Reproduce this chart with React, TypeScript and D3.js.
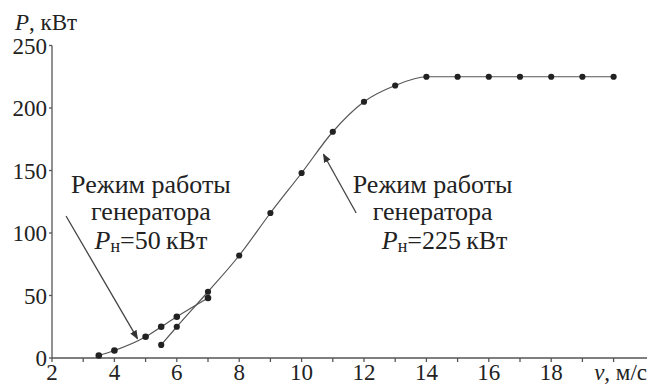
import React from 'react'
import * as d3 from 'd3'

// mode with 50 kW generator
const lowSpeed = [3.5, 4, 5, 5.5, 6, 7]
const lowPower = [2, 6, 17, 25, 33, 48]

// mode with 225 kW generator
const ratedSpeed = [5.5, 6, 7, 8, 9, 10, 11, 12, 13, 14, 15, 16, 17, 18, 19, 20]
const ratedPower = [10.5, 25, 53, 82, 116, 148, 181, 205, 218, 225, 225, 225, 225, 225, 225, 225]

const xTickValues = [2, 4, 6, 8, 10, 12, 14, 16, 18]
const yTickValues = [0, 50, 100, 150, 200, 250]

const width = 650
const height = 385
const ink = '#222'
const lineGrey = '#555'
const fam = 'Liberation Serif'
const fontCss = "svg#pv text.ser, svg#pv text.ser tspan { font-family: 'Liberation Serif', 'Times New Roman', serif !important; }"

const x = d3.scaleLinear().domain([2, 21]).range([52, 644.8])
const y = d3.scaleLinear().domain([0, 250]).range([358, 45.5])

const line = d3.line<[number, number]>()
    .x(d => x(d[0]))
    .y(d => y(d[1]))
    .curve(d3.curveMonotoneX)

const lowPts: [number, number][] = lowSpeed.map((v, i) => [v, lowPower[i]])
const ratedPts: [number, number][] = ratedSpeed.map((v, i) => [v, ratedPower[i]])

function Label(props: { cx: number, cy: number, lines: string[], value: string, shift: number }) {
    const { cx, cy, lines, value, shift } = props
    return (
        <g fill={ink} textAnchor="middle">
            <text className="ser" x={cx} y={cy} fontFamily={fam} fontSize={26}>{lines[0]}</text>
            <text className="ser" x={cx} y={cy + 27} fontFamily={fam} fontSize={26}>{lines[1]}</text>
            <text className="ser" x={cx + shift} y={cy + 56} fontFamily={fam} fontSize={26}>
                <tspan fontStyle="italic">P</tspan>
                <tspan fontSize={18} dy={3}>н</tspan>
                <tspan dy={-3}>{'=' + value + '\u2009кВт'}</tspan>
            </text>
        </g>
    )
}

export default function App() {
    const xMinor = d3.range(2, 21, 1)

    return (
        <svg id="pv" width={width} height={height} fontFamily={fam}
            style={{ position: 'absolute', left: 0, top: 0 }}>
            <style>{fontCss}</style>
            <defs>
                <marker id="head" viewBox="0 0 10 10" refX="9" refY="5"
                    markerWidth="9" markerHeight="9" orient="auto" markerUnits="userSpaceOnUse">
                    <path d="M0,1 L10,5 L0,9 Z" fill="#333" />
                </marker>
            </defs>
            <rect width={width} height={height} fill="#fff" />

            {/* axes */}
            <g stroke={lineGrey} strokeWidth={1.3} fill="none">
                <line x1={x(2)} x2={x(2)} y1={y(0)} y2={y(250)} />
                <line x1={x(2)} x2={647} y1={y(0)} y2={y(0)} />
                {yTickValues.map(t => (
                    <line key={t} x1={x(2) - 3} x2={x(2)} y1={y(t)} y2={y(t)} />
                ))}
                {xMinor.map(t => (
                    <line key={t} x1={x(t)} x2={x(t)} y1={y(0)} y2={y(0) + 4} />
                ))}
            </g>

            <g fill={ink}>
                {yTickValues.map(t => (
                    <text className="ser" key={t} x={x(2) - 5} y={y(t)} dy="0.35em" textAnchor="end"
                        fontFamily={fam} fontSize={23}>{t}</text>
                ))}
                {xTickValues.map(t => (
                    <text className="ser" key={t} x={x(t)} y={380} textAnchor="middle"
                        fontFamily={fam} fontSize={23}>{t}</text>
                ))}
                <text className="ser" x={15} y={30} fontFamily={fam} fontSize={23}>
                    <tspan fontStyle="italic">P</tspan>, кВт
                </text>
                <text className="ser" x={647} y={380} textAnchor="end" fontFamily={fam} fontSize={23}>
                    <tspan fontStyle="italic">v</tspan>, м/с
                </text>
            </g>

            {/* curves */}
            <path d={line(lowPts) || ''} fill="none" stroke={lineGrey} strokeWidth={1.2} />
            <path d={line(ratedPts) || ''} fill="none" stroke={lineGrey} strokeWidth={1.2} />
            <g fill={ink}>
                {lowPts.map((d, i) => <circle key={'l' + i} cx={x(d[0])} cy={y(d[1])} r={3.3} />)}
                {ratedPts.map((d, i) => <circle key={'r' + i} cx={x(d[0])} cy={y(d[1])} r={3.1} />)}
            </g>

            {/* annotations */}
            <g stroke="#444" strokeWidth={1.3}>
                <line x1={x(2.45)} y1={y(113.6)} x2={x(4.74)} y2={y(15.5)} markerEnd="url(#head)" />
                <line x1={x(11.75)} y1={y(116)} x2={x(10.7)} y2={y(163)} markerEnd="url(#head)" />
            </g>
            <Label cx={x(5.17)} cy={y(132)} lines={['Режим работы', 'генератора']} value="50" shift={0} />
            <Label cx={x(14.2)} cy={y(132)} lines={['Режим работы', 'генератора']} value="225" shift={12} />
        </svg>
    )
}
